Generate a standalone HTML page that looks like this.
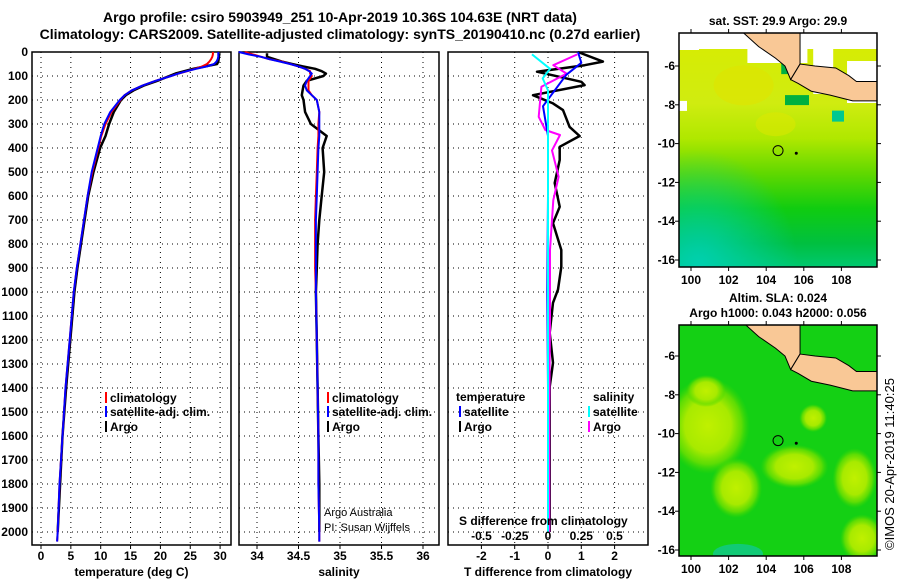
<!DOCTYPE html>
<html><head><meta charset="utf-8"><style>
body{margin:0;background:#fff;}
svg{display:block;font-family:"Liberation Sans",sans-serif;}
.t{font-weight:bold;font-size:12px;}
.h{font-weight:bold;font-size:14px;}
</style></head><body>
<svg id="c" width="900" height="580" viewBox="0 0 900 580">
<defs>
<linearGradient id="sstg" x1="0" y1="0" x2="0" y2="1">
<stop offset="0" stop-color="#d8ec00"/><stop offset="0.3" stop-color="#d0ec10"/><stop offset="0.45" stop-color="#b0e800"/><stop offset="0.6" stop-color="#60d800"/><stop offset="0.75" stop-color="#10cc10"/><stop offset="0.9" stop-color="#00c040"/><stop offset="1" stop-color="#00c870"/>
</linearGradient>
<radialGradient id="tealb" cx="0.1" cy="1" r="0.5"><stop offset="0" stop-color="#00d0b0"/><stop offset="1" stop-color="#00d0b0" stop-opacity="0"/></radialGradient>
<radialGradient id="yb"><stop offset="0" stop-color="#c0f000"/><stop offset="0.55" stop-color="#a8ea00"/><stop offset="0.8" stop-color="#70e000" stop-opacity="0.8"/><stop offset="1" stop-color="#40d800" stop-opacity="0"/></radialGradient>
</defs>
<text x="340" y="22" text-anchor="middle" class="h">Argo profile: csiro 5903949_251 10-Apr-2019 10.36S 104.63E (NRT data)</text>
<text x="340" y="39" text-anchor="middle" class="h">Climatology: CARS2009. Satellite-adjusted climatology: synTS_20190410.nc (0.27d earlier)</text>
<g id="panels"></g>
<g id="maps"></g>
<text transform="translate(894,550) rotate(-90)" font-size="13">©IMOS 20-Apr-2019 11:40:25</text>
</svg>
<script>
// ---- data ----
const depthT = [0,10,20,30,40,50,60,70,80,90,100,120,140,160,180,200,250,300,350,400,500,600,700,800,900,1000,1200,1400,1600,1800,2000,2040];
const tempClim = [28.8,28.8,28.7,28.5,28.2,27.8,27.0,25.8,24.5,23.0,21.8,19.2,17.0,15.2,14.0,13.3,11.8,10.8,10.1,9.6,8.6,7.8,7.2,6.6,6.0,5.5,4.8,4.1,3.6,3.1,2.8,2.7];
const tempSat = [29.7,29.7,29.7,29.6,29.4,29.0,27.8,26.0,24.4,23.0,21.8,19.2,17.0,15.2,14.0,13.2,11.6,10.6,10.0,9.5,8.5,7.8,7.2,6.6,6.0,5.5,4.8,4.1,3.6,3.1,2.8,2.7];
const depthA = [5,20,40,50,60,70,80,90,100,120,140,160,180,200,250,300,350,400,500,600,700,800,900,1000,1200,1400,1600,1800,2000];
const tempArgo = [29.9,29.8,29.7,29.5,27.5,25.5,24.0,22.5,21.5,19.5,17.2,15.5,14.2,13.4,12.2,11.4,10.8,9.9,8.8,7.9,7.3,6.7,6.1,5.6,4.9,4.2,3.6,3.2,2.8];
const salClim = [33.85,33.95,34.05,34.15,34.3,34.4,34.5,34.58,34.64,34.64,34.66,34.62,34.62,34.62,34.66,34.72,34.75,34.74,34.74,34.73,34.72,34.71,34.70,34.70,34.70,34.71,34.72,34.73,34.74,34.74,34.75,34.75];
const salSat = [33.78,33.9,34.05,34.15,34.28,34.4,34.5,34.58,34.63,34.66,34.64,34.6,34.58,34.6,34.66,34.72,34.75,34.75,34.75,34.74,34.73,34.72,34.71,34.71,34.71,34.71,34.72,34.73,34.74,34.74,34.75,34.75];
const salArgo = [34.12,34.12,34.3,34.42,34.55,34.7,34.78,34.83,34.8,34.6,34.56,34.55,34.54,34.56,34.58,34.65,34.84,34.79,34.81,34.78,34.75,34.73,34.72,34.71,34.72,34.73,34.74,34.75,34.75];
const depthTDA = [0,40,55,82,124,138,180,214,242,312,350,395,450,546,645,713,825,895,990,1045,1170,1295,1395,1600,1800,2000];
const tDiffArgo = [0.9,1.65,1.1,-0.33,1.0,1.1,-0.45,0.15,0.45,0.65,0.95,0.35,0.35,0.2,0.35,0.15,0.4,0.4,0.3,0.15,0.05,0.15,0.05,0.05,0.05,0.05];
const depthTDS = [0,45,95,226,350,600,1000,1400,2000];
const tDiffSat = [0.9,1.0,0.55,-0.15,0.0,0.0,-0.02,0.0,0.0];
const depthSDA = [10,55,90,145,270,325,346,410,520,617,825,1100,1500,2000];
const sDiffArgo = [0.22,0.04,0.14,-0.05,-0.07,-0.02,0.09,0.03,0.08,0.04,0.015,0.015,0.01,0.01];
const depthSDS = [10,70,110,160,400,1000,2000];
const sDiffSat = [-0.12,0.015,-0.04,0.0,0.0,0.0,0.0];
const depthTicks = [0,100,200,300,400,500,600,700,800,900,1000,1100,1200,1300,1400,1500,1600,1700,1800,1900,2000];
const tempTicks = [0,5,10,15,20,25,30];
const salTicks = [34,34.5,35,35.5,36];
const salTickLabels = ["34","34.5","35","35.5","36"];
const tdTicks = [-2,-1,0,1,2];
const sdTicks = [-0.5,-0.25,0,0.25,0.5];
const sdTickLabels = ["-0.5","-0.25","0","0.25","0.5"];
const floatLon = 104.63, floatLat = -10.36;
const lonTicks = [100,102,104,106,108];
const latTicks = [-6,-8,-10,-12,-14,-16];

const NS='http://www.w3.org/2000/svg';
function el(tag,attrs,parent,txt){const e=document.createElementNS(NS,tag);for(const k in attrs)e.setAttribute(k,attrs[k]);if(txt!==undefined)e.textContent=txt;parent.appendChild(e);return e;}
const yD = d => 52 + d*0.24;
const plotTop=52, plotBot=545;
const P = document.getElementById('panels');

function panel(x0,x1,xs,ticks,labels,name,xlabel){
  const g=el('g',{},P);
  
  
  depthTicks.forEach(d=>{const l=el('line',{x1:x0,x2:x1,y1:yD(d),y2:yD(d),stroke:'#000','stroke-dasharray':'1,4'},g);});
  ticks.forEach((v,i)=>{const x=xs(v);
    const l=el('line',{x1:x,x2:x,y1:plotTop,y2:plotBot,stroke:'#000','stroke-dasharray':'1,4'},g);
    el('line',{x1:x,x2:x,y1:plotBot,y2:plotBot+4,stroke:'#000'},g);
    const t=el('text',{x:x,y:560,'text-anchor':'middle',class:'t'},g,labels[i]);});
  const r=el('rect',{x:x0,y:plotTop,width:x1-x0,height:plotBot-plotTop,fill:'none',stroke:'#000','stroke-width':1.5},g);
  const xl=el('text',{x:(x0+x1)/2,y:576,'text-anchor':'middle',class:'t'},g,xlabel);
  return g;
}
function line(g,xs,vals,depths,color,w,name){
  const pts=vals.map((v,i)=>xs(v).toFixed(1)+','+yD(depths[i]).toFixed(1)).join(' ');
  const p=el('polyline',{points:pts,fill:'none',stroke:color,'stroke-width':w,'stroke-linejoin':'round'},g);
  
  
}
function legend(g,x,y,color,label,name){
  el('line',{x1:x,x2:x,y1:y-10,y2:y+1,stroke:color,'stroke-width':2},g);
  const t=el('text',{x:x+4,y:y,class:'t'},g,label);
  
  
}
const yg=el('g',{},P);


depthTicks.forEach(d=>{const t=el('text',{x:28,y:yD(d)+4,'text-anchor':'end',class:'t'},yg,String(d));});

const xT=v=>41+v*5.97;
const g1=panel(32,231,xT,tempTicks,tempTicks.map(String),'temperature-panel','temperature (deg C)');
line(g1,xT,tempArgo,depthA,'#000',2.5,'temp-argo-line');
line(g1,xT,tempClim,depthT,'#f00',2,'temp-climatology-line');
line(g1,xT,tempSat,depthT,'#00f',2,'temp-satellite-line');
legend(g1,106,402,'#f00','climatology','legend-climatology');
legend(g1,106,416,'#00f','satellite-adj. clim.','legend-satellite');
legend(g1,106,431,'#000','Argo','legend-argo');

const xS=v=>257+(v-34)*83;
const g2=panel(239,439,xS,salTicks,salTickLabels,'salinity-panel','salinity');
line(g2,xS,salArgo,depthA,'#000',2.5,'sal-argo-line');
line(g2,xS,salClim,depthT,'#f00',2,'sal-climatology-line');
line(g2,xS,salSat,depthT,'#00f',2,'sal-satellite-line');
legend(g2,328,402,'#f00','climatology','legend-climatology');
legend(g2,328,416,'#00f','satellite-adj. clim.','legend-satellite');
legend(g2,328,431,'#000','Argo','legend-argo');
let t=el('text',{x:324,y:516,'font-size':11},g2,'Argo Australia');
t=el('text',{x:324,y:531,'font-size':11},g2,'PI: Susan Wijffels');

const xTD=v=>548+v*33.3;
const xSD=v=>548+v*133;
const g3=panel(448,648,xTD,tdTicks,tdTicks.map(String),'difference-panel','T difference from climatology');
line(g3,xTD,tDiffArgo,depthTDA,'#000',2.5,'tdiff-argo-line');
line(g3,xSD,sDiffArgo,depthSDA,'#f0f',2,'sdiff-argo-line');
line(g3,xTD,tDiffSat,depthTDS,'#00f',2,'tdiff-satellite-line');
line(g3,xSD,sDiffSat,depthSDS,'#0ff',2,'sdiff-satellite-line');
t=el('text',{x:456,y:401,class:'t'},g3,'temperature');
legend(g3,460,416,'#00f','satellite','legend-t-satellite');
legend(g3,460,431,'#000','Argo','legend-t-argo');
t=el('text',{x:593,y:401,class:'t'},g3,'salinity');
legend(g3,589,416,'#0ff','satellite','legend-s-satellite');
legend(g3,589,431,'#f0f','Argo','legend-s-argo');
t=el('text',{x:459,y:525,class:'t'},g3,'S difference from climatology');
sdTicks.forEach((v,i)=>{const tt=el('text',{x:xSD(v),y:540,'text-anchor':'middle',class:'t'},g3,sdTickLabels[i]);});

const M=document.getElementById('maps');
function map(y0,y1,latRef,name,sst){
  const x0=679,x1=877;
  const lx=v=>691+(v-100)*18.8;
  const ly=v=>latRef+(-6-v)*19.4;
  const g=el('g',{},M);
  
  
  const cp='clip'+name; const c=el('clipPath',{id:cp},g); el('rect',{x:x0,y:y0,width:x1-x0,height:y1-y0},c);
  const inner=el('g',{'clip-path':'url(#'+cp+')'},g);
  if(sst){
    el('rect',{x:x0,y:y0,width:x1-x0,height:y1-y0,fill:'url(#sstg)'},inner);
    el('rect',{x:x0,y:y0,width:x1-x0,height:y1-y0,fill:'url(#tealb)'},inner);
    el('ellipse',{cx:lx(102.8),cy:ly(-7),rx:30,ry:20,fill:'#e0e400',opacity:0.6},inner);
    el('ellipse',{cx:lx(104.5),cy:ly(-9),rx:20,ry:12,fill:'#e0e800',opacity:0.5},inner);
    el('rect',{x:x0,y:y0,width:x1-x0,height:16,fill:'#fff'},inner);
    el('rect',{x:x0,y:y0,width:20,height:17,fill:'#fff'},inner);
    el('rect',{x:x0,y:ly(-7.8),width:8,height:10,fill:'#fff'},inner);
    el('rect',{x:lx(103),y:y0+16,width:60,height:14,fill:'#fff'},inner);
    el('rect',{x:lx(106.5),y:y0+16,width:20,height:45,fill:'#fff'},inner);
    el('rect',{x:lx(108.3),y:y0+28,width:40,height:42,fill:'#fff'},inner);
    el('rect',{x:lx(104.8),y:ly(-5.8),width:10,height:12,fill:'#00b040'},inner);
    el('rect',{x:lx(105),y:ly(-7.5),width:24,height:10,fill:'#00b040'},inner);
    el('rect',{x:lx(107.5),y:ly(-8.3),width:12,height:11,fill:'#00c890'},inner);
  } else {
    el('rect',{x:x0,y:y0,width:x1-x0,height:y1-y0,fill:'#14d014'},inner);
    [[100.9,-9.6,42,48],[102.4,-12.8,26,30],[100.8,-7.8,20,16],[105.5,-11.7,34,22],[108.7,-12.3,22,30],[109.1,-15.4,22,24],[106.5,-9.2,14,14]].forEach(b=>{
      el('ellipse',{cx:lx(b[0]),cy:ly(b[1]),rx:b[2],ry:b[3],fill:'url(#yb)'},inner);});
    el('ellipse',{cx:lx(102.5),cy:ly(-16.2),rx:25,ry:10,fill:'#10c8a0',opacity:0.7},inner);
  }
  const land=[[102.8,-4.3],[105.8,-4.3],[105.8,-5.9],[105.3,-6.7],[105.0,-6.0],[104.5,-5.6],[103.6,-5.0]];
  const java=[[105.8,-5.9],[106.6,-6.0],[107.7,-6.1],[108.4,-6.5],[108.8,-6.8],[109.9,-6.8],[109.9,-7.8],[108.6,-7.8],[107.4,-7.5],[106.4,-7.3],[105.7,-6.9],[105.3,-6.7]];
  [land,java].forEach(poly=>{const p=el('polygon',{points:poly.map(q=>lx(q[0])+','+ly(q[1])).join(' '),fill:'#f9c896',stroke:'#000','stroke-width':1},inner);});
  const fc=el('circle',{cx:lx(floatLon),cy:ly(floatLat),r:5,fill:'none',stroke:'#000'},inner);
  
  
  el('circle',{cx:lx(105.6),cy:ly(-10.5),r:1.5,fill:'#000'},inner);
  el('rect',{x:x0,y:y0,width:x1-x0,height:y1-y0,fill:'none',stroke:'#000','stroke-width':1.5},g);
  lonTicks.forEach(v=>{el('line',{x1:lx(v),x2:lx(v),y1:y1,y2:y1+4,stroke:'#000'},g);el('line',{x1:lx(v),x2:lx(v),y1:y0,y2:y0-4,stroke:'#000'},g);
    const tt=el('text',{x:lx(v),y:y1+17,'text-anchor':'middle',class:'t'},g,String(v));});
  latTicks.forEach(v=>{el('line',{x1:x0-4,x2:x0,y1:ly(v),y2:ly(v),stroke:'#000'},g);el('line',{x1:x1,x2:x1+4,y1:ly(v),y2:ly(v),stroke:'#000'},g);
    const tt=el('text',{x:x0-4,y:ly(v)+4,'text-anchor':'end',class:'t'},g,String(v));});
}
map(33,267,66,'sst-map',true);
map(325,556,356,'sla-map',false);
t=el('text',{x:778,y:25,'text-anchor':'middle',class:'t'},M,'sat. SST: 29.9 Argo: 29.9');
t=el('text',{x:778,y:302,'text-anchor':'middle',class:'t'},M,'Altim. SLA: 0.024');
t=el('text',{x:778,y:317,'text-anchor':'middle',class:'t'},M,'Argo h1000: 0.043 h2000: 0.056');
</script>
</body></html>
